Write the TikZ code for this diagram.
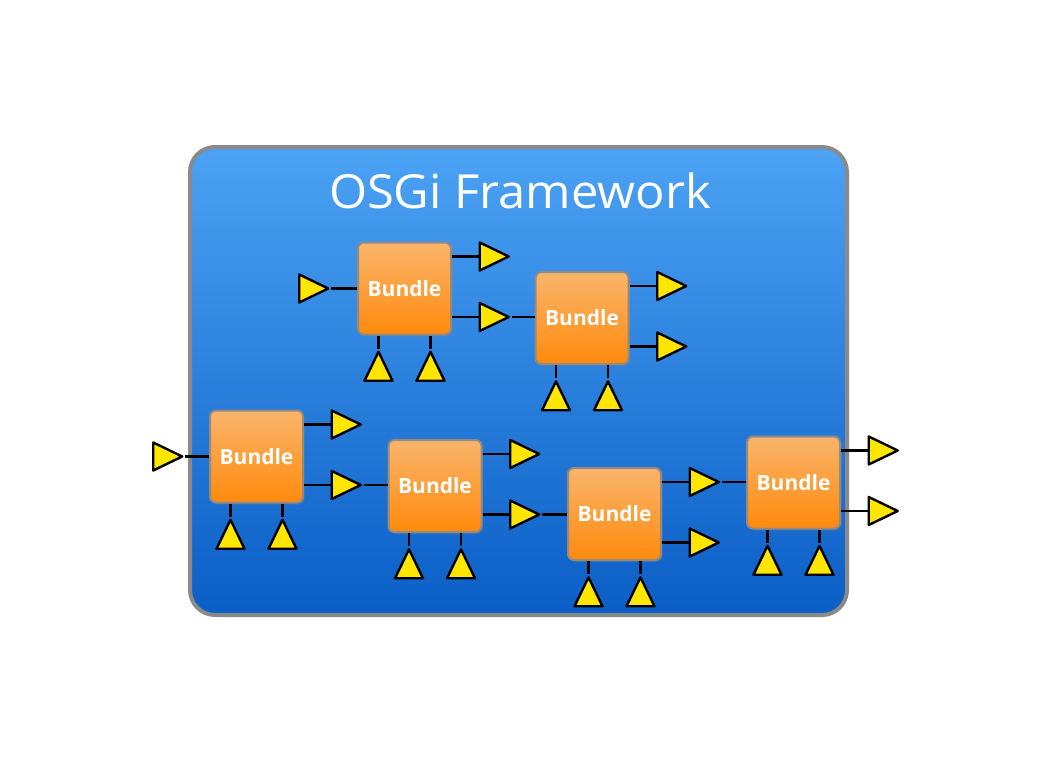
\documentclass[tikz,border=0pt]{standalone}
\usepackage{fontspec}
\setmainfont{Open Sans}
\usetikzlibrary{shapes.geometric,shadows}
\definecolor{frametop}{HTML}{4CA2F3}
\definecolor{framebot}{HTML}{0A5EC6}
\definecolor{frameline}{HTML}{8A8A8A}
\definecolor{bundletop}{HTML}{F9B56C}
\definecolor{bundlebot}{HTML}{FF8A0C}
\definecolor{bundleline}{HTML}{948A80}
\definecolor{portyellow}{HTML}{FFE600}
\tikzset{
  frame/.style={rectangle, rounded corners=25pt, minimum width=657pt, minimum height=468pt,
    top color=frametop, bottom color=framebot, draw=frameline, line width=4pt,
    drop shadow={opacity=0.25, shadow xshift=1pt, shadow yshift=-2pt}},
  titletext/.style={text=white, font=\fontsize{47}{47}\selectfont, inner sep=0pt, xscale=1.04},
  bundlebox/.style={rectangle, rounded corners=6pt, minimum width=93pt, minimum height=92pt,
    top color=bundletop, bottom color=bundlebot, draw=bundleline, line width=2pt,
    text=white, font=\bfseries\fontsize{21}{21}\selectfont,
    drop shadow={opacity=0.35, shadow xshift=1.5pt, shadow yshift=-2pt}},
  porttri/.style={isosceles triangle, isosceles triangle stretches, minimum width=28pt,
    minimum height=29pt, inner sep=0pt, fill=portyellow, draw=black, line width=2.4pt,
    line join=round},
  uptri/.style={porttri, shape border rotate=90},
  wire/.style={draw=black, line width=2.6pt}
}
\newcommand{\mkbundle}[3]{%
  \node[bundlebox] (#1) at (#2,#3) {Bundle};
  \path (#1.center) ++(84,-32) node[porttri] (#1oa) {};
  \path (#1.center) ++(84,28.5) node[porttri] (#1ob) {};
  \path (#1.center) ++(-26,83.5) node[uptri] (#1da) {};
  \path (#1.center) ++(26,83.5) node[uptri] (#1db) {};
  \draw[wire] (#1oa.lower side -| #1.east) -- (#1oa.lower side);
  \draw[wire] (#1ob.lower side -| #1.east) -- (#1ob.lower side);
  \draw[wire] (#1da.apex |- #1.south) -- (#1da.apex);
  \draw[wire] (#1db.apex |- #1.south) -- (#1db.apex);
}
\begin{document}
\begin{tikzpicture}[x=1pt,y=-1pt]
\useasboundingbox (0,0) rectangle (1050,768);
\node[frame] (fw) at (518.5,381) {};
\node[titletext, anchor=base] (title) at (520,208) {OSGi Framework};
\mkbundle{ba}{404.5}{288.5}
\mkbundle{bb}{582}{318}
\mkbundle{bc}{256.5}{456.5}
\mkbundle{bd}{435}{486}
\mkbundle{be}{614.5}{514}
\mkbundle{bf}{793.5}{482.5}
% inputs
\node[porttri] (ina) at (308,288.5) {};
\node[porttri] (inc) at (162,456.5) {};
\draw[wire] (ina.apex) -- (ina.apex -| ba.west);
\draw[wire] (inc.apex) -- (inc.apex -| bc.west);
% links between bundles
\draw[wire] (baob.apex) -- (baob.apex -| bb.west);
\draw[wire] (bcob.apex) -- (bcob.apex -| bd.west);
\draw[wire] (bdob.apex) -- (bdob.apex -| be.west);
\draw[wire] (beoa.apex) -- (beoa.apex -| bf.west);
\end{tikzpicture}
\end{document}
